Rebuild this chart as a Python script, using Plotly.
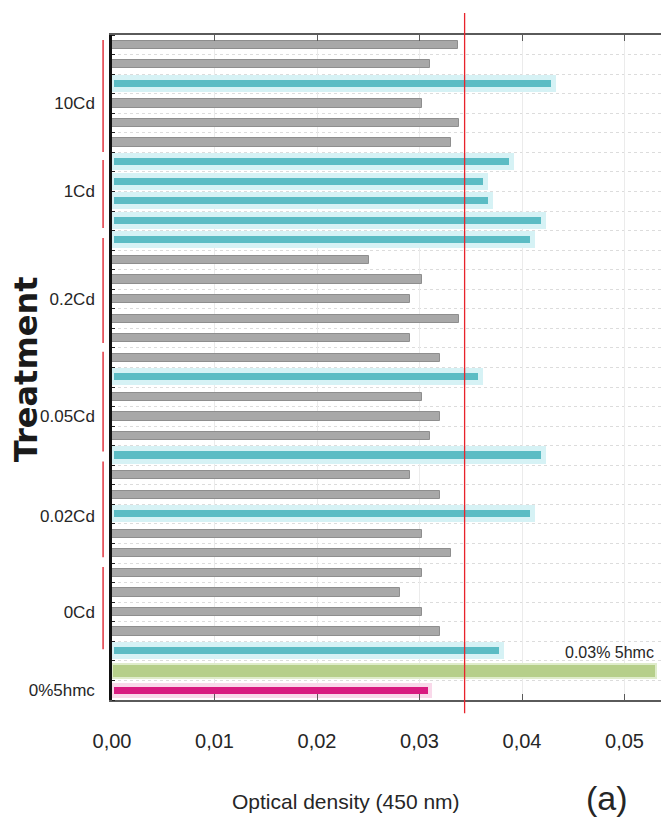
import plotly.graph_objects as go

# ---------------- data ----------------
group_labels = ["10Cd", "1Cd", "0.2Cd", "0.05Cd", "0.02Cd", "0Cd", "0%5hmc"]
label_rows = [4.0, 8.5, 14.0, 20.0, 25.1, 30.0, 34.0]

bar_rows = list(range(1, 35))  # row 1 = top bar
od_values = [
    0.0338, 0.0310, 0.0431, 0.0302, 0.0339, 0.0331,
    0.0390, 0.0365, 0.0370, 0.0421, 0.0411,
    0.0251, 0.0302, 0.0291, 0.0339, 0.0291,
    0.0320, 0.0360, 0.0302, 0.0320, 0.0310, 0.0421,
    0.0291, 0.0320, 0.0411, 0.0302, 0.0331,
    0.0302, 0.0281, 0.0302, 0.0320, 0.0380,
    0.0531, 0.0310,
]
bar_kind = list("ggtgggtttttggggggtgggtggtggggggt") + ["L", "M"]

threshold = 0.0344
x_ticks = [0.00, 0.01, 0.02, 0.03, 0.04, 0.05]

# ---------------- styles ----------------
STYLE = {
    "g": dict(fill="#a8a8a8", edge="#8e8e8e", ew=1.0, w=0.42),
    "t": dict(fill="#5bbcc4", edge="#d6f2f5", ew=5.0, w=0.62),
    "L": dict(fill="#b6cf8a", edge="#dfeccb", ew=2.0, w=0.70),
    "M": dict(fill="#d81b80", edge="#f9d9ea", ew=4.0, w=0.58),
}
FONT = "Liberation Sans, Arial, sans-serif"
TXT = "#262626"

fig = go.Figure()
fig.add_trace(go.Bar(
    x=od_values,
    y=bar_rows,
    orientation="h",
    width=[STYLE[k]["w"] for k in bar_kind],
    marker=dict(
        color=[STYLE[k]["fill"] for k in bar_kind],
        line=dict(color=[STYLE[k]["edge"] for k in bar_kind],
                  width=[STYLE[k]["ew"] for k in bar_kind]),
    ),
    showlegend=False,
    hoverinfo="x+y",
))

# threshold line (extends a little beyond plot)
shapes = [dict(type="line", xref="x", yref="paper", x0=threshold, x1=threshold,
               y0=-0.02, y1=1.033, line=dict(color="#e8232b", width=1.3), layer="above")]

# red group brackets
bracket_spans = [(0.76, 6.48), (6.89, 10.37), (10.88, 16.25),
                 (16.7, 21.8), (22.3, 27.2), (27.7, 31.9)]
for a, b in bracket_spans:
    shapes.append(dict(type="line", xref="paper", yref="y", x0=-0.016, x1=-0.016,
                       y0=a, y1=b, line=dict(color="#e2404a", width=1.6)))

annotations = [
    dict(text="0.03% 5hmc", x=od_values[32], y=bar_rows[32], xref="x", yref="y",
         xanchor="right", yanchor="bottom", yshift=8, showarrow=False,
         font=dict(family=FONT, size=16, color=TXT)),
    dict(text="<b>Treatment</b>", x=-0.153, y=0.497, xref="paper", yref="paper",
         xanchor="center", yanchor="middle", textangle=-90, showarrow=False,
         font=dict(family="DejaVu Sans, Verdana, sans-serif", size=32, color="#1a1a1a")),
    dict(text="Optical density (450 nm)", x=0.42, y=-0.152, xref="paper", yref="paper",
         xanchor="center", yanchor="middle",
         showarrow=False, font=dict(family=FONT, size=21, color=TXT)),
    dict(text="(a)", x=0.889, y=-0.148, xref="paper", yref="paper",
         xanchor="center", yanchor="middle",
         showarrow=False, font=dict(family=FONT, size=34, color=TXT)),
]

# the page body adds an 8px offset, so the figure is sized/placed to compensate
fig.update_layout(
    width=661, height=827,
    margin=dict(l=104, r=0, t=27, b=135, autoexpand=False),
    plot_bgcolor="white", paper_bgcolor="white",
    separators=", ",
    shapes=shapes, annotations=annotations,
    bargap=0,
    xaxis=dict(
        range=[0, 0.05434], tickvals=x_ticks, tickformat=".2f",
        showline=True, linecolor="#5a5a5a", linewidth=2, mirror="ticks",
        ticks="inside", ticklen=6, tickcolor="#5a5a5a", tickwidth=1,
        showgrid=True, gridcolor="#ebebeb", gridwidth=1, zeroline=False,
        tickfont=dict(family=FONT, size=20, color=TXT),
        ticklabelstandoff=22, automargin=False,
    ),
    yaxis=dict(
        range=[34.5, 0.5], tickmode="array", tickvals=label_rows, ticktext=group_labels,
        showline=True, linecolor="#111111", linewidth=2.5,
        ticks="", showgrid=False, zeroline=False,
        tickfont=dict(family=FONT, size=17, color=TXT),
        ticklabelstandoff=11, automargin=False,
        minor=dict(tickmode="linear", tick0=0.5, dtick=1, ticks="inside", ticklen=3,
                   tickcolor="#222222", showgrid=True, gridcolor="#dcdcdc",
                   griddash="dot", gridwidth=1),
    ),
)

fig.write_html("out.html")
